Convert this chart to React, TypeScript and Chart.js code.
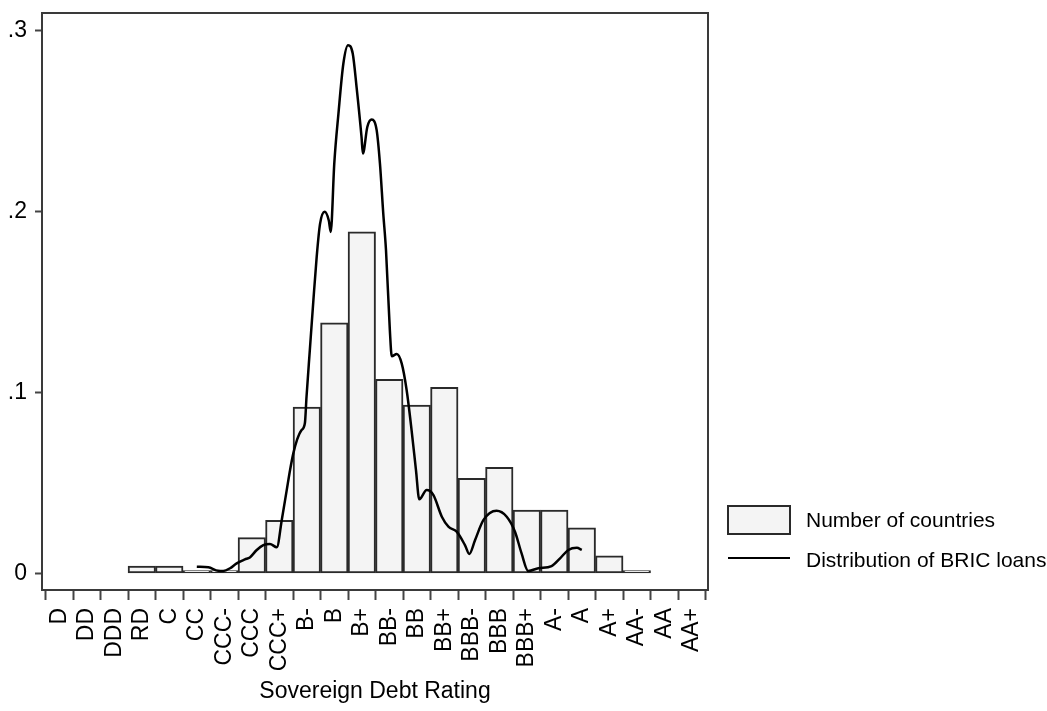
import React, { useEffect, useRef } from 'react';
import { Chart, registerables } from 'chart.js';

Chart.register(...registerables);

// ---------- data ----------
const RATINGS = ['D', 'DD', 'DDD', 'RD', 'C', 'CC', 'CCC-', 'CCC', 'CCC+', 'B-', 'B', 'B+', 'BB-', 'BB', 'BB+', 'BBB-', 'BBB', 'BBB+', 'A-', 'A', 'A+', 'AA-', 'AA', 'AA+'];

const COUNTRY_SHARE: (number | null)[] = [
  null, null, null, 0.004, 0.004, 0.0015, 0.0015, 0.0197, 0.0293, 0.0919, 0.1385, 0.1887,
  0.1072, 0.093, 0.1028, 0.0525, 0.0586, 0.035, 0.035, 0.0252, 0.0097, 0.0015, null, null,
];

// density curve of BRIC loans, x given in rating-index units
const LOAN_X = [
  5.0, 5.42, 5.78, 5.96, 6.21, 6.45, 6.75, 6.93, 7.18, 7.42, 7.66, 7.91,
  8.09, 8.27, 8.39, 8.51, 8.65, 8.8, 8.93, 8.99, 9.11, 9.24, 9.36, 9.48,
  9.65, 9.8, 9.87, 10.0, 10.15, 10.33, 10.5, 10.67, 10.81, 10.99, 11.04, 11.2,
  11.36, 11.54, 11.66, 11.78, 11.88, 12.02, 12.09, 12.27, 12.45, 12.63, 12.81, 12.97,
  13.09, 13.36, 13.6, 13.91, 14.15, 14.45, 14.75, 14.91, 15.12, 15.42, 15.9, 16.27,
  16.57, 16.81, 17.05, 17.42, 17.9, 18.21, 18.51, 18.82, 19.0,
];
const LOAN_Y = [
  0.0036, 0.0033, 0.0014, 0.0013, 0.0028, 0.0055, 0.0077, 0.0088, 0.0129, 0.0156, 0.0162, 0.0144,
  0.0295, 0.046, 0.057, 0.0663, 0.074, 0.079, 0.0829, 0.0976, 0.1234, 0.151, 0.175, 0.193,
  0.1998, 0.195, 0.1887, 0.2267, 0.254, 0.2818, 0.2919, 0.2873, 0.2688, 0.2412, 0.232, 0.2467,
  0.2508, 0.245, 0.2265, 0.199, 0.1786, 0.1344, 0.12, 0.1212, 0.116, 0.1013, 0.0792, 0.057,
  0.0409, 0.046, 0.0433, 0.0313, 0.0258, 0.023, 0.0156, 0.0107, 0.0184, 0.0294, 0.0346, 0.0313,
  0.023, 0.011, 0.0013, 0.0028, 0.004, 0.0083, 0.0129, 0.0141, 0.0129,
];

const Y_TICKS = [0, 0.1, 0.2, 0.3];
const Y_TICK_LABELS = ['0', '.1', '.2', '.3'];

const LEGEND_LABELS = ['Number of countries', 'Distribution of BRIC loans'];
const X_TITLE = 'Sovereign Debt Rating';

const FAMILY = '"Liberation Sans", Arial, Helvetica, sans-serif';

export default function App() {
  const ref = useRef<HTMLCanvasElement>(null);

  useEffect(() => {
    const canvas = ref.current;
    if (!canvas) return;

    const BAR_FILL = '#f4f4f4';
    const EDGE = '#2a2a2a';

    const framePlugin = {
      id: 'frameAndLegend',
      afterDraw(chart: any) {
        const { ctx, chartArea } = chart;
        ctx.save();
        ctx.strokeStyle = '#3a3a3a';
        ctx.lineWidth = 2;
        ctx.strokeRect(chartArea.left, chartArea.top, chartArea.right - chartArea.left, chartArea.bottom - chartArea.top);

        // legend
        const lx = chartArea.right + 20;
        ctx.fillStyle = BAR_FILL;
        ctx.fillRect(lx, 506, 62, 28);
        ctx.strokeStyle = EDGE;
        ctx.lineWidth = 2;
        ctx.strokeRect(lx, 506, 62, 28);
        ctx.beginPath();
        ctx.moveTo(lx, 558);
        ctx.lineTo(lx + 62, 558);
        ctx.strokeStyle = '#000';
        ctx.lineWidth = 2.2;
        ctx.stroke();
        ctx.fillStyle = '#000';
        ctx.font = `21px ${FAMILY}`;
        ctx.textBaseline = 'middle';
        ctx.textAlign = 'left';
        ctx.fillText(LEGEND_LABELS[0], lx + 78, 521);
        ctx.fillText(LEGEND_LABELS[1], lx + 78, 561);
        ctx.restore();
      },
    };

    const barData = RATINGS.map((_, i) => ({ x: i, y: COUNTRY_SHARE[i] }));
    const lineData = LOAN_X.map((x, i) => ({ x, y: LOAN_Y[i] }));

    const chart = new Chart(canvas, {
      type: 'bar',
      data: {
        datasets: [
          {
            type: 'line',
            label: LEGEND_LABELS[1],
            data: lineData as any,
            borderColor: '#000',
            borderWidth: 2.5,
            pointRadius: 0,
            fill: false,
            cubicInterpolationMode: 'monotone',
            order: 0,
          } as any,
          {
            type: 'bar',
            label: LEGEND_LABELS[0],
            data: barData as any,
            backgroundColor: BAR_FILL,
            borderColor: EDGE,
            borderWidth: 2,
            borderSkipped: false,
            barPercentage: 1,
            categoryPercentage: 1,
            order: 1,
          } as any,
        ],
      },
      options: {
        responsive: false,
        animation: false,
        devicePixelRatio: 1,
        layout: { padding: { left: 0, top: 13, right: 339, bottom: 0 } },
        plugins: { legend: { display: false }, tooltip: { enabled: false } },
        scales: {
          x: {
            type: 'linear',
            min: -0.629,
            max: 23.589,
            offset: false,
            afterBuildTicks: (s: any) => {
              s.ticks = RATINGS.map((_, i) => ({ value: i }));
            },
            afterFit: (s: any) => {
              s.height = 121;
              s.paddingLeft = 0;
              s.paddingRight = 0;
              s.paddingTop = 0;
              s.paddingBottom = 0;
            },
            ticks: {
              autoSkip: false,
              minRotation: 90,
              maxRotation: 90,
              padding: 8,
              color: '#000',
              font: { family: FAMILY, size: 23 },
              callback: (v: any) => RATINGS[Math.round(Number(v))] ?? '',
            },
            grid: {
              drawOnChartArea: false,
              drawTicks: true,
              tickLength: 10,
              tickColor: '#444',
              tickWidth: 2,
            },
            border: { display: false },
            title: {
              display: true,
              text: X_TITLE,
              color: '#000',
              font: { family: FAMILY, size: 23, lineHeight: 1.2 },
              padding: { top: 0, bottom: 6 },
            },
          },
          y: {
            type: 'linear',
            min: -0.00923,
            max: 0.30972,
            afterBuildTicks: (s: any) => {
              s.ticks = Y_TICKS.map((v) => ({ value: v }));
            },
            afterFit: (s: any) => {
              s.width = 42;
              s.paddingLeft = 0;
              s.paddingRight = 0;
              s.paddingTop = 0;
              s.paddingBottom = 0;
            },
            ticks: {
              padding: 8,
              color: '#000',
              font: { family: FAMILY, size: 23 },
              callback: (v: any) => {
                const i = Y_TICKS.findIndex((t) => Math.abs(t - Number(v)) < 1e-9);
                return i >= 0 ? Y_TICK_LABELS[i] : '';
              },
            },
            grid: {
              drawOnChartArea: false,
              drawTicks: true,
              tickLength: 7,
              tickColor: '#444',
              tickWidth: 2,
            },
            border: { display: false },
          },
        },
      },
      plugins: [framePlugin],
    } as any);

    return () => chart.destroy();
  }, []);

  return (
    <div style={{ position: 'fixed', left: 0, top: 0, width: 1047, height: 711, background: '#fff' }}>
      <canvas ref={ref} width={1047} height={711} style={{ display: 'block', width: 1047, height: 711 }} />
    </div>
  );
}
